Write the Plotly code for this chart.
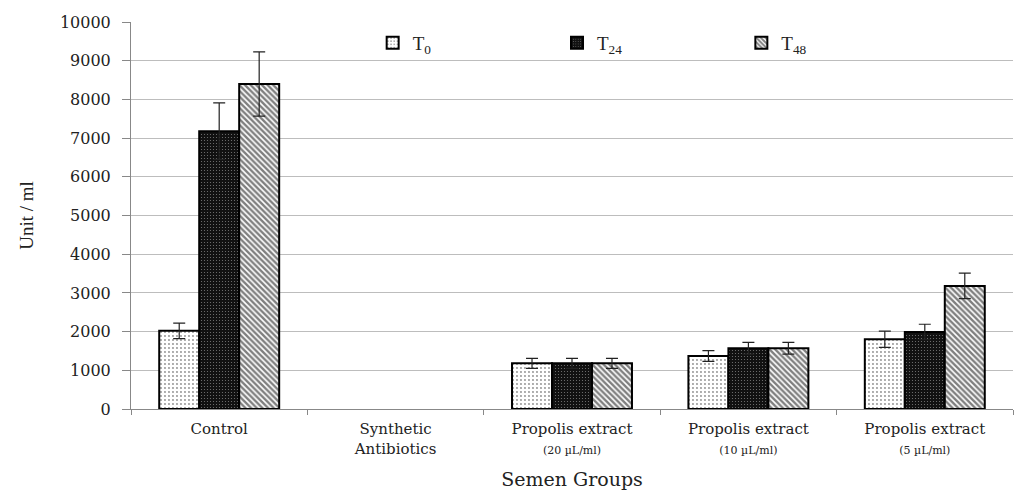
import plotly.graph_objects as go

categories = ["Control", "Synthetic<br>Antibiotics",
              "Propolis extract<br><span style='font-size:11px'>(20 µL/ml)</span>",
              "Propolis extract<br><span style='font-size:11px'>(10 µL/ml)</span>",
              "Propolis extract<br><span style='font-size:11px'>(5 µL/ml)</span>"]
series_names = ["T<sub>0</sub>", "T<sub>24</sub>", "T<sub>48</sub>"]
t0_values = [2020, None, 1180, 1370, 1800]
t24_values = [7180, None, 1180, 1570, 1990]
t48_values = [8400, None, 1180, 1570, 3180]
t0_err = [200, None, 130, 140, 210]
t24_err = [730, None, 130, 150, 200]
t48_err = [830, None, 130, 150, 330]
y_ticks = [0, 1000, 2000, 3000, 4000, 5000, 6000, 7000, 8000, 9000, 10000]

styles = [
    dict(color="white", fg="#222222", shape=".", size=4, solidity=0.18),
    dict(color="#111111", fg="#dddddd", shape=".", size=3, solidity=0.12),
    dict(color="white", fg="#000000", shape="\\", size=4, solidity=0.6),
]
legend_ids = ["legend", "legend2", "legend3"]
legend_x = [0.274, 0.483, 0.692]

fig = go.Figure()
for name, vals, errs, st, lid in zip(series_names, [t0_values, t24_values, t48_values],
                                     [t0_err, t24_err, t48_err], styles, legend_ids):
    fig.add_trace(go.Bar(
        x=categories, y=vals, name=name, legend=lid,
        marker=dict(color=st["color"],
                    line=dict(color="black", width=2),
                    pattern=dict(shape=st["shape"], fillmode="overlay",
                                 fgcolor=st["fg"], size=st["size"],
                                 solidity=st["solidity"])),
        error_y=dict(type="data", array=errs, visible=True,
                     color="#222222", thickness=1.2, width=6),
    ))

legend_common = dict(orientation="h", y=0.995, xanchor="left", yanchor="top",
                     font=dict(family="Liberation Serif", size=19, color="#222222"),
                     bgcolor="rgba(0,0,0,0)")

fig.update_layout(
    width=1015, height=490,
    margin=dict(l=131, r=2, t=22, b=81, autoexpand=False),
    paper_bgcolor="white", plot_bgcolor="white",
    barmode="group", bargap=0.32, bargroupgap=0,
    font=dict(family="DejaVu Serif", size=15, color="#222222"),
    showlegend=True,
    legend=dict(x=legend_x[0], **legend_common),
    legend2=dict(x=legend_x[1], **legend_common),
    legend3=dict(x=legend_x[2], **legend_common),
    xaxis=dict(
        title=dict(text="Semen Groups", font=dict(family="DejaVu Serif", size=19), standoff=16),
        showline=True, linecolor="#888888", linewidth=1,
        ticks="outside", tickson="boundaries", ticklen=5, tickcolor="#888888",
        ticklabelstandoff=6,
        tickfont=dict(family="DejaVu Serif", size=15), automargin=False,
    ),
    yaxis=dict(
        title=dict(text="Unit / ml", font=dict(family="Liberation Serif", size=19), standoff=21),
        range=[0, 10000], tickvals=y_ticks, tickformat="d",
        showgrid=True, gridcolor="#bdbdbd", gridwidth=1,
        showline=True, linecolor="#888888", linewidth=1,
        ticks="outside", ticklen=8, tickcolor="#888888", ticklabelstandoff=8,
        tickfont=dict(family="DejaVu Serif", size=16), zeroline=False, automargin=False,
    ),
)

fig.write_html("out.html", config={"displayModeBar": False},
               post_script="document.body.style.margin='0';")
